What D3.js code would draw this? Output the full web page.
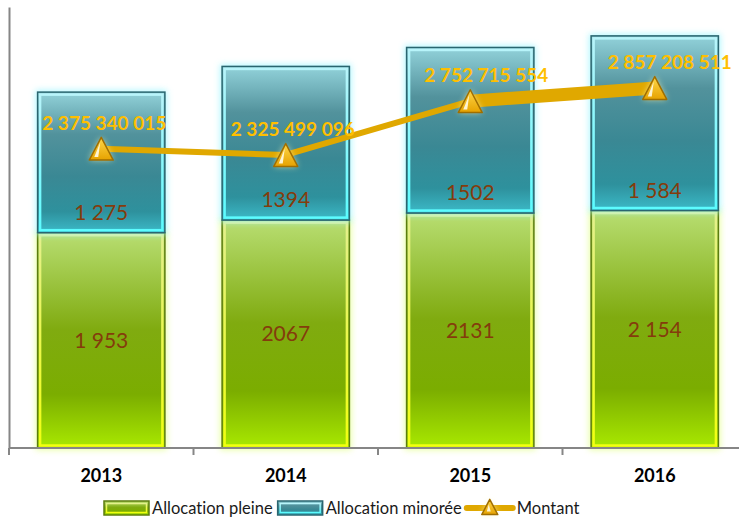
<!DOCTYPE html>
<html>
<head>
<meta charset="utf-8">
<script src="https://cdn.jsdelivr.net/npm/d3@7"></script>
<style>
  body { margin: 0; background: #fff; }
  svg { display: block; font-family: Lato, "Open Sans", sans-serif; font-variant-ligatures: none; }
</style>
</head>
<body>
<svg id="chart"></svg>
<script>
// chart values
var years = ["2013", "2014", "2015", "2016"]
var pleine = [1953, 2067, 2131, 2154]
var minoree = [1275, 1394, 1502, 1584]
var montant = [2375340015, 2325499096, 2752715554, 2857208511]
// labels exactly as printed on the bars
var pleineLabels = ["1 953", "2067", "2131", "2 154"]
var minoreeLabels = ["1 275", "1394", "1502", "1 584"]
var montantLabels = ["2 375 340 015", "2 325 499 096", "2 752 715 554", "2 857 208 511"]

var W = 739, H = 519
var svg = d3.select("#chart").attr("width", W).attr("height", H)
var defs = svg.append("defs")

function vGrad(id, stops) {
  var g = defs.append("linearGradient").attr("id", id)
    .attr("x1", 0).attr("y1", 0).attr("x2", 0).attr("y2", 1)
  stops.forEach(function(s) {
    g.append("stop").attr("offset", s[0]).attr("stop-color", s[1])
  })
}
vGrad("gGreen", [[0, "#b8de72"], [0.45, "#80ab10"], [0.75, "#7bad00"], [1, "#a9e900"]])
vGrad("gBlue", [[0, "#92d2da"], [0.3, "#52929c"], [0.6, "#3a8894"], [0.85, "#2e919d"], [1, "#3cbac8"]])
vGrad("gGreenEdge", [[0, "#e4f08c"], [1, "#f2ff10"]])
vGrad("gBlueEdge", [[0, "#b8f4fa"], [1, "#5cfcff"]])
vGrad("gGold", [[0, "#ffd84a"], [1, "#e6a200"]])

var blur = defs.append("filter").attr("id", "blur")
  .attr("x", "-30%").attr("y", "-30%").attr("width", "160%").attr("height", "160%")
blur.append("feGaussianBlur").attr("stdDeviation", 3)

var x = d3.scaleBand().domain(years).range([9, 747])
  .paddingInner(0.31).paddingOuter(0.155)
var y = d3.scaleLinear().domain([0, 4000]).range([448, 7])
var y2 = d3.scaleLinear().domain([0, 3500000000]).range([448, 7])

var rows = years.map(function(yr, i) {
  return { year: yr, p: pleine[i], m: minoree[i], v: montant[i],
    pl: pleineLabels[i], ml: minoreeLabels[i], vl: montantLabels[i] }
})

// stacked bars
var segs = []
rows.forEach(function(d) {
  segs.push({ year: d.year, y0: 0, y1: d.p, kind: "green", label: d.pl })
  segs.push({ year: d.year, y0: d.p, y1: d.p + d.m, kind: "blue", label: d.ml })
})
var style = {
  green: { fill: "url(#gGreen)", edge: "url(#gGreenEdge)", line: "#5d7c0e", glow: "#e4ff90" },
  blue: { fill: "url(#gBlue)", edge: "url(#gBlueEdge)", line: "#2a6670", glow: "#9ff6ff" }
}

var bars = svg.append("g").attr("class", "bars")
var seg = bars.selectAll("g.seg").data(segs).enter().append("g").attr("class", "seg")

seg.append("rect")
  .attr("x", function(d) { return x(d.year) - 2 })
  .attr("y", function(d) { return y(d.y1) - 2 })
  .attr("width", x.bandwidth() + 4)
  .attr("height", function(d) { return y(d.y0) - y(d.y1) + 4 })
  .attr("fill", function(d) { return style[d.kind].glow })
  .attr("opacity", 0.8)
  .attr("filter", "url(#blur)")

seg.append("rect")
  .attr("x", function(d) { return x(d.year) })
  .attr("y", function(d) { return y(d.y1) })
  .attr("width", x.bandwidth())
  .attr("height", function(d) { return y(d.y0) - y(d.y1) })
  .attr("fill", function(d) { return style[d.kind].fill })
  .attr("stroke", function(d) { return style[d.kind].line })
  .attr("stroke-width", 1.5)

seg.append("rect")
  .attr("x", function(d) { return x(d.year) + 2.5 })
  .attr("y", function(d) { return y(d.y1) + 2.5 })
  .attr("width", x.bandwidth() - 5)
  .attr("height", function(d) { return y(d.y0) - y(d.y1) - 5 })
  .attr("fill", "none")
  .attr("stroke", function(d) { return style[d.kind].edge })
  .attr("stroke-width", 2.5)

seg.append("text")
  .attr("x", function(d) { return x(d.year) + x.bandwidth() / 2 })
  .attr("y", function(d) {
    if (d.kind == "green") return (y(d.y0) + y(d.y1)) / 2
    return y(d.y0) - 20
  })
  .attr("dy", "0.35em")
  .attr("text-anchor", "middle")
  .attr("font-size", 21)
  .attr("fill", "#843c0c")
  .text(function(d) { return d.label })

// axes
var axisColor = "#868686"
var xAxis = svg.append("g").attr("transform", "translate(0,448)")
  .call(d3.axisBottom(x).tickSize(0).tickSizeOuter(0))
xAxis.select(".domain").attr("stroke", axisColor).attr("stroke-width", 2)
  .attr("d", "M9,0H739")
xAxis.selectAll("text")
  .attr("y", 28).attr("dy", "0.35em")
  .attr("font-family", "Lato, 'Open Sans', sans-serif")
  .attr("font-size", 18).attr("font-weight", "bold").attr("fill", "#000")

// ticks sit on the category boundaries
var step = x.step()
var bounds = years.map(function(yr) { return x(yr) + x.bandwidth() / 2 - step / 2 })
xAxis.selectAll("line.bound").data(bounds).enter().append("line")
  .attr("class", "bound")
  .attr("x1", function(d) { return d }).attr("x2", function(d) { return d })
  .attr("y1", 0).attr("y2", 7)
  .attr("stroke", axisColor).attr("stroke-width", 2)

var yAxis = svg.append("g").attr("transform", "translate(9,0)")
  .call(d3.axisLeft(y).ticks(0).tickSize(0).tickSizeOuter(0))
yAxis.select(".domain").attr("stroke", axisColor).attr("stroke-width", 2)

// montant line
var widths = [6, 6, 13]
var pts = rows.map(function(d) { return [x(d.year) + x.bandwidth() / 2, y2(d.v)] })
var lineG = svg.append("g")
d3.pairs(pts).forEach(function(p, i) {
  lineG.append("path")
    .attr("d", d3.line()(p))
    .attr("stroke", "#e0a800")
    .attr("stroke-width", widths[i])
    .attr("fill", "none")
})

function drawMarker(g, cx, cy, s) {
  var h = s * 0.95
  var tri = d3.line()([[cx, cy - h / 2], [cx + s / 2, cy + h / 2], [cx - s / 2, cy + h / 2]]) + "Z"
  g.append("path").attr("d", tri)
    .attr("fill", "#fff6b0").attr("opacity", 0.7).attr("filter", "url(#blur)")
  g.append("path").attr("d", tri)
    .attr("fill", "url(#gGold)").attr("stroke", "#a06e00").attr("stroke-width", 1.5)
    .attr("stroke-linejoin", "round")
  g.append("path")
    .attr("d", d3.line()([[cx - 1, cy - h / 2 + 5], [cx - s / 2 + 5, cy + h / 2 - 3], [cx - s / 2 + 9, cy + h / 2 - 3]]) + "Z")
    .attr("fill", "#fffbe8").attr("opacity", 0.9)
}

var markers = svg.append("g")
pts.forEach(function(p) { drawMarker(markers, p[0], p[1], 24) })

var labelShift = [3, 7, 16, 15]
svg.append("g").selectAll("text").data(rows).enter().append("text")
  .attr("x", function(d, i) { return pts[i][0] + labelShift[i] })
  .attr("y", function(d, i) { return pts[i][1] - 19 })
  .attr("text-anchor", "middle")
  .attr("font-size", 19).attr("font-weight", "bold")
  .attr("fill", "#ffbf00")
  .text(function(d) { return d.vl })

// legend
var leg = svg.append("g").attr("transform", "translate(0,508)")
var lx = 104
function legText(t) {
  var el = leg.append("text").attr("x", lx).attr("y", 0).attr("dy", "0.35em")
    .attr("font-size", 16.5).attr("fill", "#1a1a1a").text(t)
  lx += el.node().getComputedTextLength() + 5
}
function legSwatch(kind) {
  leg.append("rect").attr("x", lx).attr("y", -7).attr("width", 45).attr("height", 14)
    .attr("fill", style[kind].fill).attr("stroke", style[kind].line).attr("stroke-width", 1.5)
  leg.append("rect").attr("x", lx + 2.5).attr("y", -4.5).attr("width", 40).attr("height", 9)
    .attr("fill", "none").attr("stroke", style[kind].edge).attr("stroke-width", 1.5)
  lx += 48
}
legSwatch("green")
legText("Allocation pleine")
legSwatch("blue")
legText("Allocation minorée")
leg.append("line").attr("x1", lx).attr("x2", lx + 46).attr("y1", 0).attr("y2", 0)
  .attr("stroke", "#e0a800").attr("stroke-width", 6).attr("stroke-linecap", "round")
drawMarker(leg, lx + 23, -1, 16)
lx += 50
legText("Montant")
</script>
</body>
</html>
